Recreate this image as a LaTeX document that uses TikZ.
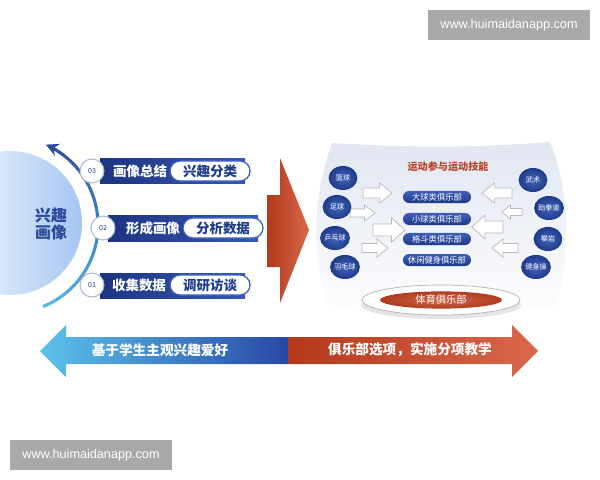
\documentclass[tikz,border=0pt]{standalone}
\usepackage{fontspec}
\setmainfont{Noto Sans CJK SC}
\newfontfamily\webfont{Liberation Sans}
\usetikzlibrary{shapes.geometric,shapes.misc,arrows.meta}
\definecolor{navy}{HTML}{1F3C8C}
\definecolor{titleblue}{HTML}{2A4A9A}
\definecolor{bardark}{HTML}{1C3580}
\definecolor{barlight}{HTML}{3558B2}
\definecolor{pillblue}{HTML}{3A5CC0}
\definecolor{ringgray}{HTML}{A8B8D0}
\definecolor{arcdark}{HTML}{2B4A9B}
\definecolor{arclight}{HTML}{56B6EA}
\definecolor{bubble}{HTML}{A4C6F2}
\definecolor{redL}{HTML}{B3391B}
\definecolor{redR}{HTML}{D8684C}
\definecolor{panel}{HTML}{E1E6F1}
\definecolor{titlered}{HTML}{B8442A}
\definecolor{ballin}{HTML}{4566BC}
\definecolor{ballout}{HTML}{1E3A8A}
\definecolor{clubtop}{HTML}{3F5FB8}
\definecolor{clubbot}{HTML}{1F3A88}
\definecolor{clubred}{HTML}{B03A1F}
\definecolor{clubmid}{HTML}{CF6A4F}
\definecolor{skyL}{HTML}{5CC2EC}
\definecolor{deepB}{HTML}{2848A6}
\definecolor{webgray}{HTML}{A9A9A9}
\newcommand{\setfs}[1]{\fontsize{#1}{#1}\selectfont}
% block arrow: tail x, tip x, y, half head
\newcommand{\whitearr}[4]{%
  \draw[warr] (#1,#3+0.5*#4) -- ({#2+(#1-#2)*0.42},#3+0.5*#4)
    -- ({#2+(#1-#2)*0.42},#3+#4) -- (#2,#3) -- ({#2+(#1-#2)*0.42},#3-#4)
    -- ({#2+(#1-#2)*0.42},#3-0.5*#4) -- (#1,#3-0.5*#4) -- cycle;}
\begin{document}
\begin{tikzpicture}[x=0.025cm,y=0.025cm,
  numdot/.style={circle, draw=ringgray, line width=0.7pt, fill=white, minimum size=0.6cm, inner sep=0pt, text=navy, font=\setfs{5}},
  bartext/.style={text=white, inner sep=0pt, font=\setfs{9.6}\bfseries},
  pill/.style={rounded rectangle, draw=pillblue, line width=0.9pt, fill=white, minimum width=2cm, minimum height=0.5cm, inner sep=0pt, text=navy, font=\setfs{9.6}\bfseries},
  sport/.style={ellipse, inner color=ballin, outer color=ballout, minimum width=0.72cm, minimum height=0.6cm, inner sep=0pt, text=white, font=\setfs{5}},
  club/.style={rounded rectangle, top color=clubtop, bottom color=clubbot, minimum width=1.7cm, minimum height=0.3cm, inner sep=0pt, text=white, font=\setfs{5.9}},
  warr/.style={draw=gray!55, fill=white, line width=0.5pt},
  webbox/.style={fill=webgray, text=white, font=\webfont\setfs{9}, minimum width=4.05cm, minimum height=0.75cm, inner sep=0pt}]
\useasboundingbox (0,0) rectangle (600,-480);

% watermarks
\node[webbox] (web1) at (509,-25) {www.huimaidanapp.com};
\node[webbox] (web2) at (91,-455) {www.huimaidanapp.com};

% left: interest profile
\shade[left color=white, right color=bubble] (10,-223) circle[radius=72];
\node[align=center, inner sep=0pt, text=titleblue, font=\fontsize{11.3}{12.5}\selectfont\bfseries] (interest) at (51,-224) {兴趣\\画像};
\foreach \i in {0,...,15} {
  \pgfmathsetmacro\a{-68+8*\i}
  \pgfmathsetmacro\m{\i*6.25}
  \draw[line width=2.2pt, color=arcdark!\m!arclight] (10,-225) ++(\a:88) arc[start angle=\a, end angle=\a+8.3, radius=88];
}
\draw[line width=2.2pt, arcdark, -{Stealth[length=9pt,width=9pt]}] (10,-225) ++(60:88) arc[start angle=60, end angle=66, radius=88];

\shade[left color=bardark, right color=barlight] (100,-158) rectangle (245,-183);
\shade[left color=bardark, right color=barlight] (108,-215) rectangle (258,-241);
\shade[left color=bardark, right color=barlight] (100,-273) rectangle (245,-298);

\node[numdot] (n3) at (92,-171) {03};
\node[numdot] (n2) at (103,-228) {02};
\node[numdot] (n1) at (92,-285) {01};

\node[bartext] (t3) at (140,-171) {画像总结};
\node[bartext] (t2) at (153,-228) {形成画像};
\node[bartext] (t1) at (139,-285) {收集数据};

\node[pill] (p3) at (210,-171) {兴趣分类};
\node[pill] (p2) at (223,-228) {分析数据};
\node[pill] (p1) at (210,-285) {调研访谈};

% big red arrow
\shade[left color=redL, right color=redR] (267,-195) -- (280,-195) -- (280,-158) -- (309,-230) -- (280,-303) -- (280,-267) -- (267,-267) -- cycle;

% right panel
\shade[top color=panel, bottom color=white] (332,-143) .. controls (420,-148) and (470,-148) .. (550,-142)
  .. controls (570,-190) and (570,-250) .. (557,-305)
  .. controls (470,-322) and (410,-322) .. (327,-305)
  .. controls (312,-250) and (312,-200) .. (332,-143);
\node[inner sep=0pt, text=titlered, font=\setfs{7.2}\bfseries] (skill) at (448,-167) {运动参与运动技能};

\whitearr{363}{392}{-193}{10}
\whitearr{350}{375}{-213}{8}
\whitearr{373}{405}{-230}{12}
\whitearr{362}{388}{-248}{9}
\whitearr{512}{482}{-193}{10}
\whitearr{522}{502}{-212}{7}
\whitearr{503}{472}{-227}{12}
\whitearr{518}{492}{-248}{9}

\node[club] (c1) at (437,-197) {大球类俱乐部};
\node[club] (c2) at (437,-219) {小球类俱乐部};
\node[club] (c3) at (437,-239) {格斗类俱乐部};
\node[club] (c4) at (437,-260) {休闲健身俱乐部};

\node[sport] (s1) at (343,-178) {篮球};
\node[sport] (s2) at (337,-207) {足球};
\node[sport] (s3) at (335,-238) {乒乓球};
\node[sport] (s4) at (345,-267) {羽毛球};
\node[sport] (s5) at (533,-180) {武术};
\node[sport] (s6) at (549,-208) {跆拳道};
\node[sport] (s7) at (548,-239) {攀岩};
\node[sport] (s8) at (536,-267) {健身操};

\fill[black!10] (441,-305) ellipse[x radius=80, y radius=14];
\node[ellipse, draw=gray!60, fill=white, line width=0.5pt, minimum width=3.95cm, minimum height=0.75cm] (ring) at (441,-300) {};
\node[ellipse, inner color=clubmid, outer color=clubred, minimum width=3.05cm, minimum height=0.43cm, inner sep=0pt, text=white, font=\setfs{7.3}] (pe) at (441,-300) {体育俱乐部};

% bottom double arrow
\shade[left color=skyL, right color=deepB] (40,-351) -- (66,-325) -- (66,-337) -- (288,-337) -- (288,-364) -- (66,-364) -- (66,-377) -- cycle;
\shade[left color=redL, right color=redR] (288,-337) -- (512,-337) -- (512,-325) -- (538,-351) -- (512,-377) -- (512,-364) -- (288,-364) -- cycle;
\node[inner sep=0pt, text=white, font=\setfs{9.7}\bfseries] (base) at (160,-350) {基于学生主观兴趣爱好};
\node[inner sep=0pt, text=white, font=\setfs{9.7}\bfseries] (teach) at (410,-350) {俱乐部选项，实施分项教学};
\end{tikzpicture}
\end{document}
